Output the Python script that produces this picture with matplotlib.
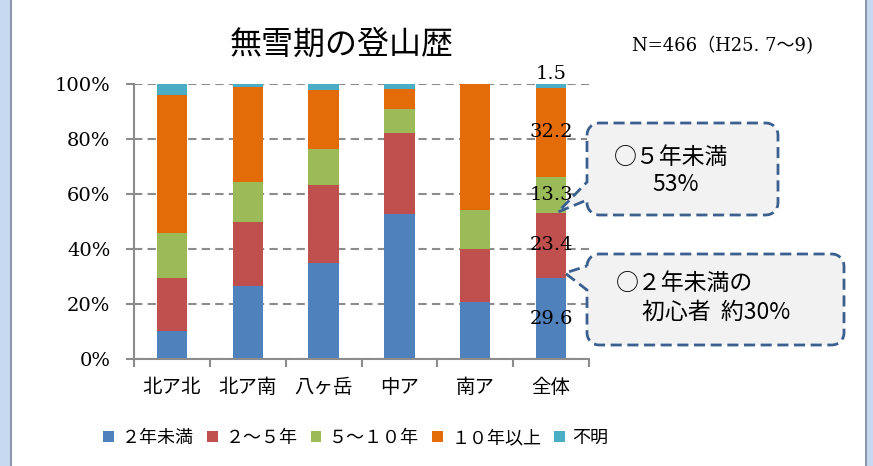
import numpy as np
import matplotlib.pyplot as plt
from matplotlib.patches import Polygon, Rectangle
from matplotlib.lines import Line2D

# data (percent)
categories = ["北ア北", "北ア南", "八ヶ岳", "中ア", "南ア", "全体"]
series_names = ["２年未満", "２～５年", "５～１０年", "１０年以上", "不明"]
under2 = [10.3, 26.7, 34.9, 52.6, 20.7, 29.6]
y2to5 = [19.1, 23.2, 28.2, 29.5, 19.3, 23.4]
y5to10 = [16.4, 14.3, 13.2, 8.7, 14.3, 13.3]
over10 = [50.1, 34.5, 21.5, 7.3, 45.7, 32.2]
unknown = [4.1, 1.3, 2.2, 1.9, 0.0, 1.5]
colors = ["#4f81bd", "#c0504d", "#9bbb59", "#e36c09", "#4bacc6"]
yticks = [0, 20, 40, 60, 80, 100]

JP = ["Noto Sans CJK JP", "DejaVu Sans"]
SERIF = ["DejaVu Serif", "Noto Sans CJK JP"]

W, H = 873, 466
fig = plt.figure(figsize=(W / 100, H / 100), dpi=100, facecolor="#c6d9f1")


def fx(x):
    return x / W


def fy(y):
    return 1 - y / H


# white chart panel with grey side borders
fig.add_artist(Rectangle((fx(11), 0), fx(866) - fx(11), 1, transform=fig.transFigure,
                         facecolor="white", edgecolor="none", zorder=-5))
for xx in (11, 866):
    fig.add_artist(Line2D([fx(xx), fx(xx)], [0, 1], transform=fig.transFigure,
                          color="#8e9aab", lw=1.5, zorder=-4))

ax = fig.add_axes([fx(134), fy(359.3), (589 - 134) / W, (359.3 - 83.7) / H])
ax.set_facecolor("none")

x = np.arange(len(categories))
data = [under2, y2to5, y5to10, over10, unknown]
bottom = np.zeros(len(categories))
handles = []
for vals, c, name in zip(data, colors, series_names):
    b = ax.bar(x, vals, 0.4, bottom=bottom, color=c, label=name, zorder=2)
    handles.append(b)
    bottom = bottom + np.array(vals)

# value labels on the overall bar
last = len(categories) - 1
cum = 0
for i, vals in enumerate(data):
    v = vals[last]
    if i < len(data) - 1:
        ax.text(x[last], cum + v / 2, f"{v:.1f}", ha="center", va="center",
                fontsize=14, family=SERIF, zorder=3)
    else:
        ax.text(x[last], cum + v + 0.3, f"{v:.1f}", ha="center", va="bottom",
                fontsize=14, family=SERIF, zorder=3, clip_on=False)
    cum += v

ax.set_xlim(-0.5, len(categories) - 0.5)
ax.set_ylim(0, 100)
ax.set_yticks(yticks)
ax.set_yticklabels([f"{t}%" for t in yticks], family=SERIF, fontsize=14)
ax.grid(axis="y", color="#8c8c8c", linestyle=(0, (4, 2.5)), lw=1.5, zorder=1)
ax.set_xticks(x)
ax.set_xticklabels(categories, family=JP, fontsize=14)
ax.set_xticks(np.arange(-0.5, len(categories)), minor=True)
ax.tick_params(axis="x", which="major", length=0, pad=13)
ax.tick_params(axis="x", which="minor", length=6, width=1.5, color="#8c8c8c", direction="out")
ax.tick_params(axis="y", length=6, width=1.5, color="#8c8c8c", direction="out", pad=11)
for s in ("top", "right"):
    ax.spines[s].set_visible(False)
for s in ("left", "bottom"):
    ax.spines[s].set_color("#8c8c8c")
    ax.spines[s].set_linewidth(1.5)

fig.text(fx(342), fy(45), "無雪期の登山歴", ha="center", va="center", fontsize=23, family=JP)
fig.text(fx(632), fy(46), "N=466（H25. 7～9)", ha="left", va="center", fontsize=13, family=SERIF)

fig.legend(handles=handles, labels=series_names, loc="center",
           bbox_to_anchor=(fx(356), fy(438)), ncol=5, frameon=False,
           prop={"family": JP, "size": 13}, handlelength=0.6, handleheight=0.6,
           handletextpad=0.45, columnspacing=0.7, borderpad=0)


def bubble(x0, y0, x1, y1, wt, wb, tip, r=12):
    pts = []

    def arc(cx, cy, a0, a1):
        for a in np.linspace(a0, a1, 8):
            pts.append((cx + r * np.cos(a), cy + r * np.sin(a)))

    # screen coords, y down
    arc(x0 + r, y0 + r, np.pi, 1.5 * np.pi)
    arc(x1 - r, y0 + r, 1.5 * np.pi, 2 * np.pi)
    arc(x1 - r, y1 - r, 0, 0.5 * np.pi)
    arc(x0 + r, y1 - r, 0.5 * np.pi, np.pi)
    pts.append((x0, wb))
    pts.append(tip)
    pts.append((x0, wt))
    verts = [(fx(px), fy(py)) for px, py in pts]
    fig.add_artist(Polygon(verts, closed=True, transform=fig.transFigure,
                           facecolor="#f2f2f2", edgecolor="#3b6090", lw=2,
                           linestyle=(0, (4, 2)), zorder=2))


bubble(587, 123, 778, 215, 182, 200, (558, 212))
bubble(587, 254, 844, 345, 266, 290, (565, 273))

fig.text(fx(614), fy(157), "○５年未満", ha="left", va="center", fontsize=16.5, family=JP, zorder=3)
fig.text(fx(652), fy(185), "53%", ha="left", va="center", fontsize=16.5, family=JP, zorder=3)
fig.text(fx(616), fy(283), "○２年未満の", ha="left", va="center", fontsize=16.5, family=JP, zorder=3)
fig.text(fx(642), fy(312), "初心者  約30%", ha="left", va="center", fontsize=16.5, family=JP, zorder=3)

fig.savefig("out.png", dpi=100, facecolor=fig.get_facecolor())
